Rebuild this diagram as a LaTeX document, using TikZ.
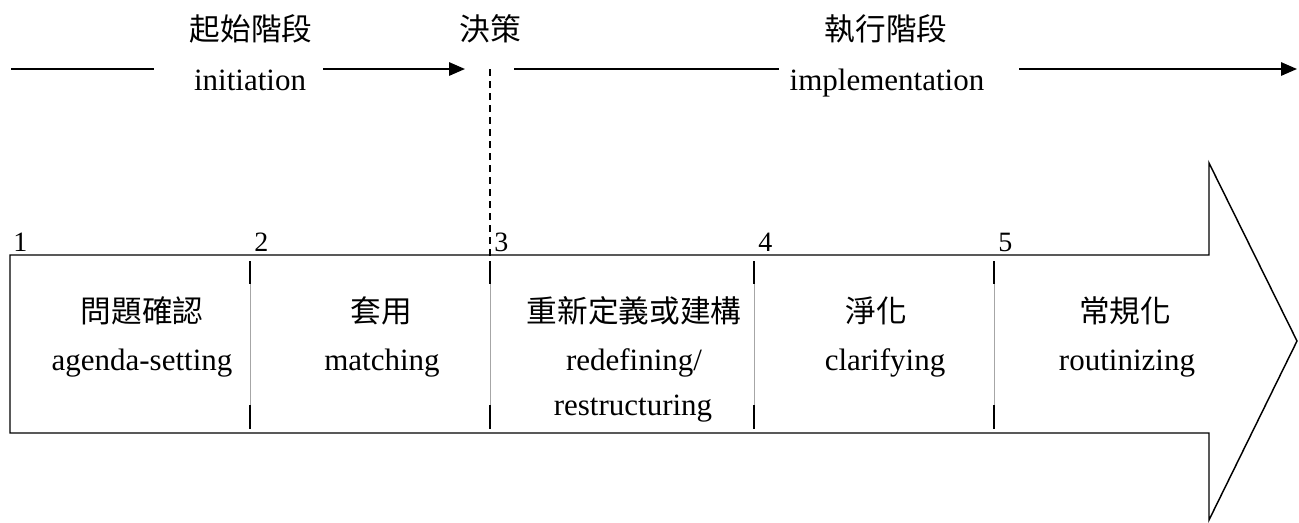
\documentclass[tikz,border=0pt]{standalone}
\usepackage{fontspec}
\setmainfont{Liberation Serif}
\newfontfamily\cjkfont{Noto Sans CJK TC}
\usetikzlibrary{arrows.meta}
\begin{document}
\begin{tikzpicture}[x=0.75pt,y=-0.75pt,
  entxt/.style={inner sep=0pt, anchor=base, font=\fontsize{23.25}{28}\selectfont},
  zhtxt/.style={inner sep=0pt, anchor=center, font=\cjkfont\fontsize{23}{28}\selectfont},
  numtxt/.style={inner sep=0pt, anchor=base west, font=\fontsize{21}{24}\selectfont},
  phase/.style={line width=1.5pt, -{Triangle[length=12pt,width=10pt]}},
  phaseline/.style={line width=1.5pt},
  body/.style={line width=1.1pt, line join=miter},
  tick/.style={line width=1.5pt},
  seam/.style={line width=0.5pt, draw=black!35},
  cut/.style={line width=1.1pt, dash pattern=on 5.25pt off 3.75pt}]
\useasboundingbox (0,0) rectangle (1299,522);

% phase labels along the top
\node[zhtxt] (zhinit) at (251,29) {起始階段};
\node[entxt] (eninit) at (250,90) {initiation};
\node[zhtxt] (zhdec) at (490,29) {決策};
\node[zhtxt] (zhimpl) at (886,29) {執行階段};
\node[entxt] (enimpl) at (887,90) {implementation};

% phase arrows
\coordinate (a0) at (11,69);
\coordinate (a1) at (154,69);
\coordinate (b0) at (323,69);
\coordinate (b1) at (465,69);
\coordinate (c0) at (514,69);
\coordinate (c1) at (779,69);
\coordinate (d0) at (1019,69);
\coordinate (d1) at (1297,69);
\draw[phaseline] (a0) -- (a1);
\draw[phase] (b0) -- (b1);
\draw[phaseline] (c0) -- (c1);
\draw[phase] (d0) -- (d1);

% decision line
\coordinate (dtop) at (490,69);
\coordinate (dbot) at (490,261);
\draw[cut] (dtop) -- (dbot);

% the big arrow body
\draw[body] (10,255) -- (1209,255) -- (1209,163) -- (1297,341)
  -- (1209,520) -- (1209,433) -- (10,433) -- cycle;

% stage dividers
\foreach \x in {250,490,754,994}{
  \draw[seam] (\x,261) -- (\x,429);
  \draw[tick] (\x,261) -- (\x,284);
  \draw[tick] (\x,405) -- (\x,429);
}

% stage numbers
\node[numtxt] (n1) at (13,251) {1};
\node[numtxt] (n2) at (254,251) {2};
\node[numtxt] (n3) at (494,251) {3};
\node[numtxt] (n4) at (758,251) {4};
\node[numtxt] (n5) at (998,251) {5};

% stage names
\node[zhtxt] (s1zh) at (142,311) {問題確認};
\node[entxt] (s1en) at (142,370) {agenda-setting};
\node[zhtxt] (s2zh) at (381,311) {套用};
\node[entxt] (s2en) at (382,370) {matching};
\node[zhtxt] (s3zh) at (634,311) {重新定義或建構};
\node[entxt] (s3en) at (634,370) {redefining/};
\node[entxt] (s3en2) at (633,415) {restructuring};
\node[zhtxt] (s4zh) at (876,311) {淨化};
\node[entxt] (s4en) at (885,370) {clarifying};
\node[zhtxt] (s5zh) at (1125,311) {常規化};
\node[entxt] (s5en) at (1127,370) {routinizing};
\end{tikzpicture}
\end{document}
